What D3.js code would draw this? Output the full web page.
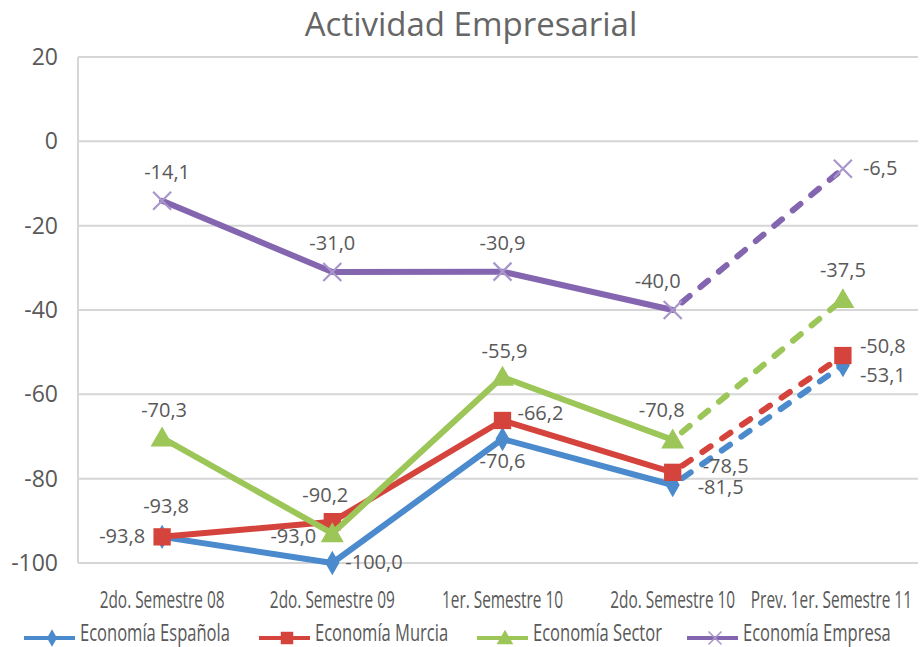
<!DOCTYPE html>
<html><head><meta charset="utf-8">
<script src="https://cdn.jsdelivr.net/npm/d3@7"></script>
<style>
html,body{margin:0;padding:0;background:#fff;}
svg{display:block;font-family:"Open Sans",sans-serif;}
</style></head>
<body><svg id="c" width="922" height="647"></svg>
<script>
const title = "Actividad Empresarial";
const categories = ["2do. Semestre 08","2do. Semestre 09","1er. Semestre 10","2do. Semestre 10","Prev. 1er. Semestre 11"];
const yTicks = [20, 0, -20, -40, -60, -80, -100];
const seriesNames = ["Economía Española","Economía Murcia","Economía Sector","Economía Empresa"];
const espanola = [-93.8, -100.0, -70.6, -81.5, -53.1];
const murcia   = [-93.8, -90.2, -66.2, -78.5, -50.8];
const sector   = [-70.3, -93.0, -55.9, -70.8, -37.5];
const empresa  = [-14.1, -31.0, -30.9, -40.0, -6.5];
const forecastFrom = 3; // last actual index; forecast segment dashed

(function(){
const colors = ["#4a8acd","#d5443c","#9cc658","#8466b0"];
const markerColors = ["#4a8acd","#d5443c","#9cc658","#a896cc"];
const markers = ["diamond","square","triangle","x"];
// label placement per series / point (style config)
const placements = [
  [["left",-17,6],["right",13,6],["below",0,29],["right",25,9],["right",17,17]],
  [["above",4,-24],["above",-7,-20],["right",15,0],["right",30,1],["right",17,-3]],
  [["above",2,-21],["left",-16,10],["above",2,-19],["above",-11,-23],["above",0,-22]],
  [["above",5,-22],["above",0,-22],["above",0,-22],["above",-15,-22],["right",20,6]]
];

const allSeries = [espanola, murcia, sector, empresa];
const svg = d3.select("#c");
const pLeft = 78, pRight = 918, pTop = 57, pBottom = 563;
const textColor = "#595959";

const x = d3.scalePoint().domain(categories).range([77, 928]).padding(0.5);
const y = d3.scaleLinear().domain([-100, 20]).range([pBottom, pTop]);

svg.append("text").attr("x", 471).attr("y", 36).attr("text-anchor","middle")
  .attr("font-size", 33).attr("fill","#666").text(title);

// gridlines
svg.append("g").selectAll("line").data(yTicks).join("line")
  .attr("x1", pLeft).attr("x2", pRight).attr("y1", d=>y(d)).attr("y2", d=>y(d))
  .attr("stroke","#d6d6d6").attr("stroke-width",2);
svg.append("line").attr("x1",pLeft).attr("x2",pLeft).attr("y1",pTop).attr("y2",pBottom)
  .attr("stroke","#d6d6d6").attr("stroke-width",2);

// y tick labels
svg.append("g").selectAll("text").data(yTicks).join("text")
  .attr("x", 58).attr("y", d=>y(d)+8).attr("text-anchor","end")
  .attr("font-size", 23).attr("fill",textColor).text(d=>d);

// x tick labels (condensed via horizontal scale)
const xl = svg.append("g").selectAll("text").data(categories).join("text")
  .attr("x", 0).attr("y", 0).attr("text-anchor","middle")
  .attr("font-size", 23).attr("fill",textColor).text(d=>d);
const condense = 125 / xl.node().getComputedTextLength();
xl.each(function(d){
  const w = this.getComputedTextLength()*condense;
  let cx = x(d);
  if (cx + w/2 > 912) cx = 912 - w/2;
  d3.select(this).attr("transform", `translate(${cx},608) scale(${condense},1)`);
});

function drawMarker(g, type, cx, cy, i, scale=1){
  const c = markerColors[i];
  if(type==="x"){
    const s = 9*scale;
    g.append("path").attr("d",`M${cx-s},${cy-s}L${cx+s},${cy+s}M${cx-s},${cy+s}L${cx+s},${cy-s}`)
      .attr("stroke",c).attr("stroke-width",2.2*scale).attr("fill","none");
    return;
  }
  const sym = {diamond:d3.symbolDiamond, square:d3.symbolSquare, triangle:d3.symbolTriangle}[type];
  const size = {diamond:170, square:300, triangle:230}[type]*scale*scale;
  g.append("path").attr("d", d3.symbol().type(sym).size(size)())
    .attr("transform",`translate(${cx},${cy + (type==="triangle"?2*scale:0)})`).attr("fill",c);
}

const line = d3.line().x(d=>d[0]).y(d=>d[1]);
allSeries.forEach((vals, si)=>{
  const g = svg.append("g");
  const pts = vals.map((v,i)=>[x(categories[i]), y(v)]);
  g.append("path").attr("d", line(pts.slice(0, forecastFrom+1)))
    .attr("fill","none").attr("stroke",colors[si]).attr("stroke-width",6)
    .attr("stroke-linejoin","round").attr("stroke-linecap","round");
  g.append("path").attr("d", line(pts.slice(forecastFrom)))
    .attr("fill","none").attr("stroke",colors[si]).attr("stroke-width",6)
    .attr("stroke-dasharray","10,14").attr("stroke-dashoffset",-12).attr("stroke-linecap","round");
  pts.forEach(p=>drawMarker(g, markers[si], p[0], p[1], si));
});

// data labels
const fmt = v => d3.format(".1f")(v).replace("\u2212","-").replace(".", ",");
allSeries.forEach((vals, si)=>{
  vals.forEach((v,i)=>{
    const [pos, dx, dy] = placements[si][i];
    const anchor = pos==="left" ? "end" : pos==="right" ? "start" : "middle";
    svg.append("text").attr("x", x(categories[i])+dx).attr("y", y(v)+dy)
      .attr("text-anchor", anchor).attr("font-size", 20).attr("fill",textColor).text(fmt(v));
  });
});

// legend
const legendX = [24, 259, 477, 687];
const lg = svg.append("g");
let legCondense = null;
seriesNames.forEach((n, si)=>{
  const lx = legendX[si], ly = 638;
  lg.append("line").attr("x1",lx).attr("x2",lx+51).attr("y1",ly).attr("y2",ly)
    .attr("stroke",colors[si]).attr("stroke-width",4);
  drawMarker(lg, markers[si], lx+28, ly, si, 0.72);
  const t = lg.append("text").attr("x", 0).attr("y", 0).attr("font-size",23)
    .attr("fill",textColor).text(n);
  const w = t.node().getComputedTextLength();
  if (legCondense === null) legCondense = 150 / w;
  t.attr("transform", `translate(${lx+56},${ly+3}) scale(${legCondense},1)`);
});
})();
</script></body></html>
